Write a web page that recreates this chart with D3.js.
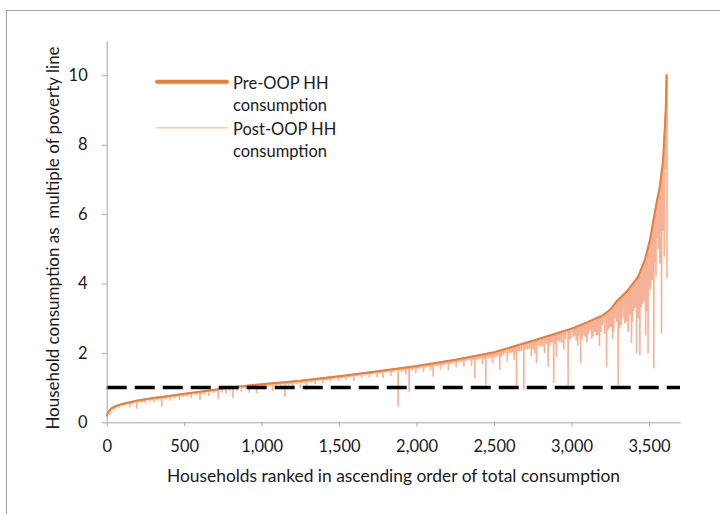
<!DOCTYPE html>
<html>
<head>
<meta charset="utf-8">
<script src="https://cdn.jsdelivr.net/npm/d3@7"></script>
<style>
  body { margin: 0; background: #fff; }
  text { font-family: Lato, "Open Sans", sans-serif; fill: #1a1a1a; }
</style>
</head>
<body>
<div id="canvas"></div>
<script>
const w = 720,
    h = 514,
    plotLeft = 106.7,
    plotRight = 680,
    plotTop = 40.6,
    plotBottom = 422.3,
    preColor = '#ed7d31',
    postColor = '#f4b398',
    axisColor = '#a6a6a6';

// pre-OOP consumption, households ranked ascending
const preRank = [0, 10, 30, 60, 100, 200, 300, 400, 500, 600, 700, 800, 900, 1000,
    1250, 1500, 1750, 2000, 2250, 2500, 2750, 3000, 3100, 3200, 3250, 3290, 3355,
    3430, 3473, 3506, 3548, 3570, 3591, 3608, 3613, 3618];
const preValue = [0.17, 0.3, 0.4, 0.47, 0.53, 0.63, 0.7, 0.76, 0.82, 0.88, 0.94, 1.0, 1.05, 1.1,
    1.2, 1.33, 1.47, 1.62, 1.8, 2.02, 2.35, 2.7, 2.88, 3.08, 3.25, 3.48, 3.76,
    4.2, 4.68, 5.25, 6.31, 6.79, 7.56, 9.0, 10.0, 10.0];

// post-OOP consumption, deeper drops below pre-OOP: [rank, value]
const postDips = [
    [20, 0.22], [45, 0.35], [80, 0.42], [120, 0.47], [150, 0.45], [175, 0.55], [194, 0.40],
    [225, 0.56], [250, 0.55], [280, 0.6], [305, 0.58], [330, 0.62], [355, 0.45], [380, 0.66],
    [410, 0.62], [440, 0.7], [470, 0.64], [495, 0.72],
    [520, 0.74], [545, 0.7], [575, 0.78], [602, 0.64], [630, 0.8], [660, 0.76], [690, 0.84],
    [720, 0.67], [745, 0.86], [770, 0.82], [795, 0.9], [815, 0.70], [840, 0.92], [870, 0.88],
    [895, 0.96], [920, 0.85], [945, 0.98], [968, 0.84], [990, 1.0],
    [1020, 0.95], [1045, 1.02], [1070, 0.9], [1095, 1.05], [1120, 0.98], [1150, 0.74],
    [1175, 1.06], [1200, 1.0], [1225, 1.1], [1250, 0.98], [1275, 1.12], [1290, 0.93],
    [1320, 1.15], [1345, 1.1], [1370, 1.2], [1395, 1.12], [1420, 1.22], [1445, 1.18],
    [1470, 1.26], [1495, 1.2],
    [1520, 1.28], [1545, 1.22], [1570, 1.3], [1595, 1.2], [1620, 1.34], [1645, 1.27],
    [1670, 1.36], [1695, 1.3], [1720, 1.4], [1745, 1.3], [1770, 1.42], [1783, 1.28],
    [1810, 1.44], [1835, 1.34], [1860, 1.48], [1881, 0.45], [1905, 1.45], [1930, 1.38],
    [1952, 0.88], [1975, 1.5], [1995, 1.42],
    [2020, 1.55], [2045, 1.45], [2070, 1.6], [2090, 1.5], [2107, 1.31], [2130, 1.62],
    [2155, 1.52], [2180, 1.66], [2205, 1.5], [2230, 1.7], [2255, 1.58], [2280, 1.74],
    [2305, 1.6], [2330, 1.8], [2355, 1.62], [2376, 1.27], [2400, 1.82], [2425, 1.68],
    [2447, 1.07], [2470, 1.85], [2490, 1.7],
    [2515, 1.9], [2537, 1.51], [2560, 1.95], [2585, 1.75], [2610, 2.0], [2630, 1.8],
    [2645, 1.07], [2665, 2.05], [2692, 0.93], [2715, 2.1], [2740, 1.9], [2774, 1.70],
    [2800, 2.2], [2825, 2.0], [2849, 1.60], [2870, 2.3], [2885, 1.13], [2903, 1.89],
    [2925, 2.3], [2950, 2.1], [2978, 1.07], [2995, 2.4],
    [3020, 2.5], [3040, 2.2], [3059, 1.70], [3080, 2.5], [3100, 2.3], [3120, 2.65],
    [3139, 2.47], [3160, 2.5], [3180, 2.2], [3200, 2.8], [3226, 1.60], [3245, 2.7],
    [3265, 2.4], [3280, 3.0], [3301, 1.07], [3320, 2.8], [3344, 2.85], [3365, 2.6],
    [3387, 2.28], [3400, 3.2], [3420, 2.0], [3441, 1.94], [3460, 3.4], [3478, 2.5],
    [3494, 1.99], [3510, 3.8], [3531, 1.56], [3545, 4.2], [3560, 5.0], [3570, 4.58],
    [3581, 2.56], [3590, 5.5], [3598, 4.77], [3604, 7.3], [3616, 4.15]
];

// post-OOP consumption, shallow drops that make the dense band: [rank, value]
const postShallow = [
    [62, 0.42], [100, 0.48], [135, 0.52], [162, 0.54], [210, 0.58], [238, 0.6], [265, 0.63],
    [292, 0.64], [318, 0.66], [342, 0.67], [368, 0.69], [395, 0.71], [425, 0.73], [455, 0.74],
    [483, 0.77], [508, 0.78], [532, 0.79], [560, 0.81], [588, 0.83], [615, 0.84], [645, 0.86],
    [675, 0.88], [705, 0.9], [732, 0.92], [758, 0.94], [783, 0.95], [805, 0.96], [828, 0.97],
    [855, 0.99], [882, 1.0], [908, 1.0], [932, 1.03], [957, 1.04], [980, 1.05],
    [1005, 1.05], [1032, 1.06], [1058, 1.06], [1082, 1.08], [1108, 1.09], [1135, 1.1],
    [1162, 1.1], [1188, 1.12], [1212, 1.13], [1238, 1.14], [1262, 1.15], [1305, 1.17],
    [1332, 1.18], [1358, 1.2], [1382, 1.21], [1408, 1.22], [1432, 1.24], [1458, 1.25],
    [1482, 1.27],
    [1508, 1.26], [1532, 1.29], [1558, 1.3], [1582, 1.32], [1608, 1.33], [1632, 1.35],
    [1658, 1.36], [1682, 1.38], [1708, 1.38], [1732, 1.41], [1758, 1.41], [1797, 1.44],
    [1822, 1.45], [1848, 1.46], [1870, 1.5], [1892, 1.49], [1918, 1.5], [1940, 1.52],
    [1963, 1.53], [1985, 1.55],
    [2008, 1.54], [2032, 1.58], [2058, 1.57], [2080, 1.62], [2098, 1.6], [2118, 1.63],
    [2142, 1.64], [2168, 1.65], [2192, 1.68], [2218, 1.69], [2242, 1.7], [2268, 1.73],
    [2292, 1.74], [2318, 1.76], [2342, 1.78], [2365, 1.8], [2388, 1.8], [2412, 1.84],
    [2436, 1.82], [2458, 1.86], [2480, 1.87],
    [2503, 1.88], [2526, 1.92], [2548, 1.88], [2572, 1.98], [2598, 1.98], [2620, 2.02],
    [2638, 2.0], [2655, 2.04], [2678, 2.05], [2703, 2.1], [2728, 2.12], [2752, 2.1],
    [2762, 2.0], [2787, 2.2], [2812, 2.18], [2837, 2.25], [2860, 2.2], [2878, 2.3],
    [2893, 2.26], [2914, 2.35], [2937, 2.3], [2962, 2.4], [2987, 2.38],
    [3010, 2.45], [3030, 2.35], [3050, 2.5], [3070, 2.4], [3090, 2.45], [3110, 2.55],
    [3130, 2.4], [3150, 2.6], [3170, 2.5], [3190, 2.6], [3213, 2.55], [3235, 2.65],
    [3255, 2.75], [3272, 2.6], [3290, 2.9], [3310, 2.7], [3332, 3.0], [3355, 2.9],
    [3376, 3.1], [3393, 2.9], [3410, 3.3], [3430, 3.0], [3450, 3.3], [3468, 3.5],
    [3486, 3.2], [3502, 3.9], [3520, 4.1], [3538, 4.6], [3553, 5.3], [3565, 5.6],
    [3576, 6.0], [3586, 6.4], [3594, 6.9]
];

const xTicks = [0, 500, 1000, 1500, 2000, 2500, 3000, 3500];
const yTicks = [0, 2, 4, 6, 8, 10];
const povertyLine = 1;

const svg = d3.select('#canvas').append('svg')
    .attr('width', w)
    .attr('height', h);

svg.append('rect')
    .attr('width', w)
    .attr('height', h)
    .attr('fill', '#fff');

// outer chart frame
svg.append('rect')
    .attr('x', 6.5)
    .attr('y', 10.5)
    .attr('width', 800)
    .attr('height', 800)
    .attr('fill', 'none')
    .attr('stroke', '#a0a0a0');

const x = d3.scaleLinear().domain([0, 3700]).range([plotLeft, plotRight]);
const y = d3.scaleLinear().domain([0, 11]).range([plotBottom, plotTop]);
const preAt = d3.scaleLinear().domain(preRank).range(preValue).clamp(true);

// post line: follows the pre line, dropping at each listed household
const postPts = preRank.map((r, i) => [r, preValue[i]]);
postDips.concat(postShallow).forEach(d => {
    postPts.push([d[0] - 1, preAt(d[0] - 1)], [d[0], d[1]], [d[0] + 1, preAt(d[0] + 1)]);
});
postPts.sort((a, b) => a[0] - b[0]);

const line = d3.line().x(d => x(d[0])).y(d => y(d[1]));

svg.append('path')
    .attr('d', line(postPts))
    .attr('fill', 'none')
    .attr('stroke', postColor)
    .attr('stroke-width', 1.6);

svg.append('path')
    .attr('d', line(preRank.map((r, i) => [r, preValue[i]])))
    .attr('fill', 'none')
    .attr('stroke', preColor)
    .attr('stroke-width', 2)
    .attr('stroke-linejoin', 'round');

// poverty line
svg.append('line')
    .attr('x1', plotLeft)
    .attr('x2', plotRight)
    .attr('y1', y(povertyLine))
    .attr('y2', y(povertyLine))
    .attr('stroke', '#000')
    .attr('stroke-width', 3.5)
    .attr('stroke-dasharray', '20,8');

function axisStyle(g) {
    g.select('.domain').attr('stroke', axisColor);
    g.selectAll('.tick line').attr('stroke', axisColor);
    g.selectAll('.tick text')
        .attr('font-family', 'Lato, sans-serif')
        .attr('font-size', '16.5px')
        .attr('fill', '#1a1a1a');
}

svg.append('g')
    .attr('transform', 'translate(0,' + plotBottom + ')')
    .call(d3.axisBottom(x).tickValues(xTicks).tickSize(4).tickSizeOuter(0)
        .tickPadding(14).tickFormat(d3.format(',')))
    .call(axisStyle);

svg.append('g')
    .attr('transform', 'translate(' + plotLeft + ',0)')
    .call(d3.axisLeft(y).tickValues(yTicks).tickSize(5).tickSizeOuter(0).tickPadding(14))
    .call(axisStyle);

svg.append('text')
    .attr('x', (168 + 619) / 2)
    .attr('y', 482)
    .attr('text-anchor', 'middle')
    .attr('font-size', '17.4px')
    .text('Households ranked in ascending order of total consumption');

svg.append('text')
    .attr('transform', 'translate(59,238)rotate(-90)')
    .attr('text-anchor', 'middle')
    .attr('font-size', '17px')
    .style('white-space', 'pre')
    .text('Household consumption as  multiple of poverty line');

// legend
const legend = [
    {label: ['Pre-OOP HH', 'consumption'], color: preColor, width: 4, y: 81.7},
    {label: ['Post-OOP HH', 'consumption'], color: '#f8cbad', width: 1.5, y: 127.7}
];
legend.forEach(l => {
    svg.append('line')
        .attr('x1', 157).attr('x2', 227)
        .attr('y1', l.y).attr('y2', l.y)
        .attr('stroke', l.color)
        .attr('stroke-width', l.width)
        .attr('stroke-linecap', 'round');
    l.label.forEach((t, i) => {
        svg.append('text')
            .attr('x', 233)
            .attr('y', l.y + 7 + i * 22)
            .attr('font-size', '16.5px')
            .text(t);
    });
});
</script>
</body>
</html>
